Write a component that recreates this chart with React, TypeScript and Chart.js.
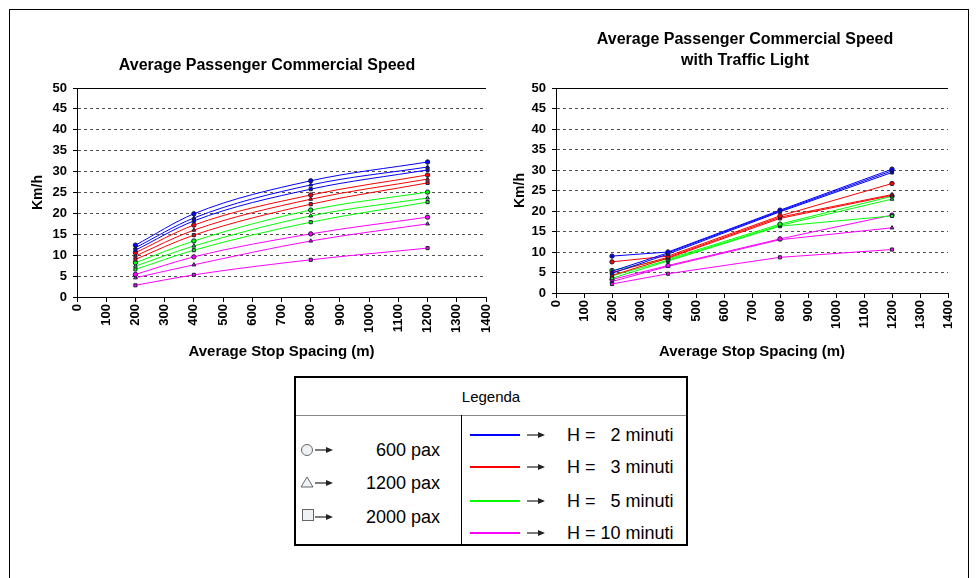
import { useEffect, useRef } from "react";
import { Chart, registerables } from "chart.js";

Chart.register(...registerables);

const FONT = "'Liberation Sans', Arial, Helvetica, sans-serif";

// Average stop spacing (m) where speeds were evaluated
const stopSpacing = [200, 400, 800, 1200];

// Axis ranges
const spacingMax = 1400;
const spacingStep = 100;
const speedMax = 50;
const speedStep = 5;

const headways = ["2", "3", "5", "10"];
const paxLoads = ["600 pax", "1200 pax", "2000 pax"];
const headwayColors = ["#0000ff", "#ff0000", "#00ff00", "#ff00ff"];
const paxMarkers = ["circle", "triangle", "rect"];

// Commercial speed (km/h) without signals; rows: 600 / 1200 / 2000 pax
const freeH2 = [
  [12.4, 19.9, 27.8, 32.3],
  [11.8, 18.9, 26.8, 31.1],
  [11.2, 18.2, 25.8, 30.4],
];
const freeH3 = [
  [10.6, 17.2, 24.4, 29.2],
  [9.8, 16.0, 23.4, 28.2],
  [9.0, 14.8, 22.2, 27.3],
];
const freeH5 = [
  [8.2, 13.4, 20.8, 25.1],
  [7.4, 12.2, 19.4, 23.7],
  [6.6, 11.2, 17.9, 22.7],
];
const freeH10 = [
  [5.4, 9.6, 15.1, 19.1],
  [4.6, 7.7, 13.4, 17.5],
  [2.8, 5.3, 8.9, 11.7],
];

// Commercial speed (km/h) with traffic lights; rows: 600 / 1200 / 2000 pax
const lightH2 = [
  [9.0, 10.0, 20.2, 30.2],
  [5.3, 9.8, 20.0, 29.8],
  [4.8, 9.5, 19.8, 29.4],
];
const lightH3 = [
  [7.6, 9.0, 18.8, 26.7],
  [5.0, 8.7, 18.5, 24.0],
  [4.3, 8.5, 18.2, 23.8],
];
const lightH5 = [
  [5.5, 8.3, 16.8, 23.6],
  [4.2, 8.0, 16.5, 22.9],
  [3.6, 7.8, 16.3, 18.8],
];
const lightH10 = [
  [3.3, 6.7, 13.2, 19.0],
  [2.8, 6.5, 13.0, 15.9],
  [2.2, 4.7, 8.7, 10.6],
];

const titleFree = ["Average Passenger Commercial Speed"];
const titleLight = ["Average Passenger Commercial Speed", "with Traffic Light"];
const yTitle = "Km/h";
const xTitle = "Average Stop Spacing (m)";
const legendTitle = "Legenda";

// solid frame line along the top of the plot area (at 50 km/h)
const plotTopBorder = {
  id: "plotTopBorder",
  beforeDatasetsDraw(chart: any) {
    const { ctx, chartArea } = chart;
    ctx.save();
    ctx.strokeStyle = "#000";
    ctx.lineWidth = 1;
    ctx.beginPath();
    ctx.moveTo(chartArea.left, Math.round(chartArea.top) + 0.5);
    ctx.lineTo(chartArea.right, Math.round(chartArea.top) + 0.5);
    ctx.stroke();
    ctx.restore();
  },
};

type PanelProps = {
  left: number;
  top: number;
  width: number;
  height: number;
  series: number[][][];
  smooth: boolean;
  title: string[];
  titlePadTop: number;
  titlePadBottom: number;
  yAxisWidth: number;
  xAxisHeight: number;
  padRight: number;
  yTitlePad: number;
  xTitlePad: number;
};

function SpeedPanel(p: PanelProps) {
  const ref = useRef<HTMLCanvasElement | null>(null);

  useEffect(() => {
    if (!ref.current) return;
    const datasets: any[] = [];
    p.series.forEach((group, h) => {
      group.forEach((values, k) => {
        datasets.push({
          label: `H = ${headways[h]} minuti, ${paxLoads[k]}`,
          data: stopSpacing.map((x, i) => ({ x, y: values[i] })),
          borderColor: headwayColors[h],
          backgroundColor: headwayColors[h],
          borderWidth: 1,
          pointStyle: paxMarkers[k],
          pointRadius: 2.2,
          pointBorderWidth: 1,
          pointBorderColor: "#1c1c3a",
          pointBackgroundColor: headwayColors[h],
          tension: 0,
          cubicInterpolationMode: p.smooth ? "monotone" : "default",
          fill: false,
        });
      });
    });

    const chart = new Chart(ref.current, {
      type: "line",
      data: { datasets },
      plugins: [plotTopBorder],
      options: {
        animation: false,
        responsive: false,
        layout: { padding: 0 },
        plugins: {
          legend: { display: false },
          tooltip: { enabled: false },
          title: {
            display: true,
            text: p.title,
            color: "#000",
            font: { family: FONT, size: 16, weight: "bold", lineHeight: "21px" },
            padding: { top: p.titlePadTop, bottom: p.titlePadBottom },
          },
        },
        scales: {
          x: {
            type: "linear",
            min: 0,
            max: spacingMax,
            afterFit: (s: any) => {
              s.height = p.xAxisHeight;
            },
            ticks: {
              stepSize: spacingStep,
              autoSkip: false,
              minRotation: 90,
              maxRotation: 90,
              padding: 2,
              color: "#000",
              font: { family: FONT, size: 13, weight: "bold" },
              callback: (v: any) => String(v),
            },
            grid: {
              drawOnChartArea: false,
              drawTicks: true,
              tickLength: 5,
              tickColor: "#000",
            },
            border: { display: true, color: "#000", width: 1 },
            title: {
              display: true,
              text: xTitle,
              color: "#000",
              font: { family: FONT, size: 15, weight: "bold", lineHeight: "18px" },
              padding: { top: 0, bottom: p.xTitlePad },
            },
          },
          y: {
            min: 0,
            max: speedMax,
            afterFit: (s: any) => {
              s.width = p.yAxisWidth;
            },
            ticks: {
              stepSize: speedStep,
              padding: 6,
              color: "#000",
              font: { family: FONT, size: 13, weight: "bold" },
            },
            grid: {
              color: "#505050",
              lineWidth: 1,
              drawTicks: true,
              tickLength: 4,
              tickColor: "#000",
            },
            border: { display: true, color: "#000", width: 1, dash: [3, 3] },
            title: {
              display: true,
              text: yTitle,
              color: "#000",
              font: { family: FONT, size: 14, weight: "bold", lineHeight: "17px" },
              padding: { top: p.yTitlePad, bottom: 0 },
            },
          },
          // empty right-hand gutter so the title centres on the whole panel
          gutter: {
            type: "linear",
            position: "right",
            display: true,
            afterFit: (s: any) => {
              s.width = p.padRight;
            },
            ticks: { display: false },
            grid: { display: false, drawTicks: false },
            border: { display: false },
          },
        },
      },
    } as any);
    return () => chart.destroy();
  }, []);

  return (
    <canvas
      ref={ref}
      width={p.width}
      height={p.height}
      style={{
        position: "absolute",
        left: p.left,
        top: p.top,
        width: p.width,
        height: p.height,
        display: "block",
      }}
    />
  );
}

function Arrow({ x, y }: { x: number; y: number }) {
  return (
    <g>
      <line x1={x} y1={y} x2={x + 13} y2={y} stroke="#222" strokeWidth={1.2} />
      <polygon points={`${x + 11},${y - 3} ${x + 18},${y} ${x + 11},${y + 3}`} fill="#222" />
    </g>
  );
}

const legendText = {
  position: "absolute" as const,
  fontFamily: FONT,
  fontSize: 18,
  lineHeight: "20px",
  color: "#000",
  whiteSpace: "pre" as const,
};

function Legenda() {
  const rowsLeft = [74, 107, 141];
  const rowsRight = [59, 91, 125, 157];
  const headwayText = ["H =   2 minuti", "H =   3 minuti", "H =   5 minuti", "H = 10 minuti"];
  return (
    <div
      style={{
        position: "absolute",
        left: 294,
        top: 376,
        width: 394,
        height: 170,
        border: "2px solid #000",
        boxSizing: "border-box",
        background: "#fff",
      }}
    >
      <div
        style={{
          position: "absolute",
          left: 0,
          top: 0,
          width: "100%",
          height: 37,
          borderBottom: "1px solid #8a8a8a",
          textAlign: "center",
          fontFamily: FONT,
          fontSize: 15,
          lineHeight: "37px",
        }}
      >
        {legendTitle}
      </div>
      <div
        style={{
          position: "absolute",
          left: 165,
          top: 37,
          width: 1,
          height: 131,
          background: "#000",
        }}
      />
      <svg width={390} height={166} style={{ position: "absolute", left: 0, top: 0 }}>
        <circle cx={11} cy={rowsLeft[0] - 2} r={5.5} fill="#eef2f4" stroke="#666" strokeWidth={1} />
        <polygon
          points={`${11},${rowsLeft[1] - 8} ${17},${rowsLeft[1] + 2} ${5},${rowsLeft[1] + 2}`}
          fill="#eef2f4"
          stroke="#666"
          strokeWidth={1}
        />
        <rect x={6.5} y={rowsLeft[2] - 9.5} width={11} height={11} fill="#eef2f4" stroke="#666" strokeWidth={1} />
        {rowsLeft.map((y, i) => (
          <Arrow key={"la" + i} x={19} y={y - 2} />
        ))}
        {rowsRight.map((y, i) => (
          <g key={"r" + i}>
            <line x1={174} y1={y - 2} x2={224} y2={y - 2} stroke={headwayColors[i]} strokeWidth={2} />
            <Arrow x={231} y={y - 2} />
          </g>
        ))}
      </svg>
      {paxLoads.map((t, i) => (
        <span
          key={"pt" + i}
          style={{ ...legendText, right: 246, top: rowsLeft[i] - 12, textAlign: "right" }}
        >
          {t}
        </span>
      ))}
      {headwayText.map((t, i) => (
        <span key={"ht" + i} style={{ ...legendText, left: 271, top: rowsRight[i] - 12 }}>
          {t}
        </span>
      ))}
    </div>
  );
}

export default function App() {
  return (
    <div
      style={{
        position: "fixed",
        left: 0,
        top: 0,
        width: 978,
        height: 578,
        background: "#fff",
        overflow: "hidden",
      }}
    >
      <div
        style={{
          position: "absolute",
          left: 9,
          top: 9,
          width: 960,
          height: 600,
          border: "1px solid #000",
          boxSizing: "border-box",
        }}
      />
      <SpeedPanel
        left={14}
        top={20}
        width={506}
        height={350}
        series={[freeH2, freeH3, freeH5, freeH10]}
        smooth={true}
        title={titleFree}
        titlePadTop={35.5}
        titlePadBottom={11.5}
        yAxisWidth={63}
        xAxisHeight={73}
        padRight={34}
        yTitlePad={15.5}
        xTitlePad={9}
      />
      <SpeedPanel
        left={491}
        top={20}
        width={508}
        height={350}
        series={[lightH2, lightH3, lightH5, lightH10]}
        smooth={false}
        title={titleLight}
        titlePadTop={9.5}
        titlePadBottom={16.5}
        yAxisWidth={65}
        xAxisHeight={77}
        padRight={51}
        yTitlePad={20.5}
        xTitlePad={9}
      />
      <Legenda />
    </div>
  );
}
